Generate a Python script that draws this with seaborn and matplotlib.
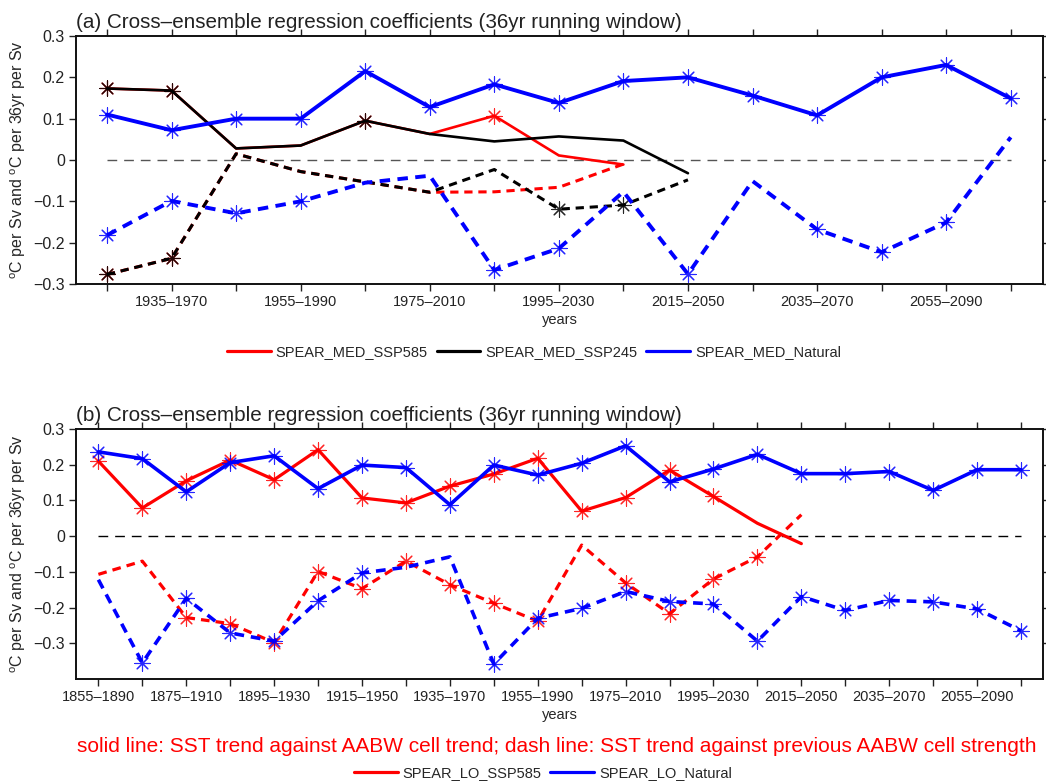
import numpy as np
import pandas as pd
import matplotlib
matplotlib.use("Agg")
import matplotlib.pyplot as plt
from matplotlib.lines import Line2D
import seaborn as sns

# ---------------- data ----------------
# Panel (a): SPEAR_MED, 36-yr windows starting 1925 ... 2065
med_start_years = [1925, 1935, 1945, 1955, 1965, 1975, 1985, 1995, 2005, 2015, 2025, 2035, 2045, 2055, 2065]

med_nat_trend = [0.110, 0.072, 0.100, 0.100, 0.215, 0.128, 0.183, 0.138, 0.191, 0.200, 0.156, 0.108, 0.200, 0.230, 0.149]
med_nat_trend_sig = [1, 1, 1, 1, 1, 1, 1, 1, 1, 1, 1, 1, 1, 1, 1]
med_nat_prev = [-0.182, -0.099, -0.129, -0.100, -0.055, -0.038, -0.266, -0.214, -0.077, -0.276, -0.051, -0.168, -0.223, -0.151, 0.055]
med_nat_prev_sig = [1, 1, 1, 1, 0, 0, 1, 1, 0, 1, 0, 1, 1, 1, 0]

med_245_trend = [0.173, 0.168, 0.028, 0.035, 0.095, 0.063, 0.045, 0.057, 0.047, -0.032]
med_245_trend_sig = [1, 1, 0, 0, 1, 0, 0, 0, 0, 0]
med_245_prev = [-0.277, -0.238, 0.015, -0.028, -0.053, -0.078, -0.023, -0.119, -0.109, -0.048]
med_245_prev_sig = [1, 1, 0, 0, 0, 0, 0, 1, 1, 0]

med_585_trend = [0.173, 0.168, 0.028, 0.035, 0.095, 0.063, 0.107, 0.011, -0.011]
med_585_trend_sig = [1, 1, 0, 0, 1, 0, 1, 0, 0]
med_585_prev = [-0.277, -0.238, 0.015, -0.028, -0.053, -0.078, -0.077, -0.066, -0.010]
med_585_prev_sig = [1, 1, 0, 0, 0, 0, 0, 0, 0]

# Panel (b): SPEAR_LO, 36-yr windows starting 1855 ... 2065
lo_start_years = [1855, 1865, 1875, 1885, 1895, 1905, 1915, 1925, 1935, 1945, 1955,
                  1965, 1975, 1985, 1995, 2005, 2015, 2025, 2035, 2045, 2055, 2065]

lo_nat_trend = [0.236, 0.217, 0.124, 0.206, 0.225, 0.133, 0.199, 0.192, 0.088, 0.199, 0.171,
                0.204, 0.253, 0.152, 0.188, 0.229, 0.175, 0.175, 0.181, 0.128, 0.186, 0.186]
lo_nat_trend_sig = [1] * 22
lo_nat_prev = [-0.122, -0.355, -0.174, -0.271, -0.294, -0.181, -0.103, -0.087, -0.058, -0.358, -0.230,
               -0.202, -0.155, -0.183, -0.190, -0.294, -0.169, -0.208, -0.180, -0.184, -0.204, -0.265]
lo_nat_prev_sig = [0, 1, 1, 1, 1, 1, 1, 0, 0, 1, 1, 1, 1, 1, 1, 1, 1, 1, 1, 1, 1, 1]

lo_585_trend = [0.210, 0.079, 0.155, 0.213, 0.158, 0.242, 0.107, 0.093, 0.140, 0.174, 0.218,
                0.070, 0.108, 0.185, 0.111, 0.036, -0.021]
lo_585_trend_sig = [1, 1, 1, 1, 1, 1, 1, 1, 1, 1, 1, 1, 1, 1, 1, 0, 0]
lo_585_prev = [-0.107, -0.070, -0.228, -0.245, -0.298, -0.099, -0.147, -0.070, -0.136, -0.188, -0.238,
               -0.025, -0.131, -0.217, -0.120, -0.058, 0.060]
lo_585_prev_sig = [0, 0, 1, 1, 1, 1, 1, 1, 1, 1, 1, 0, 1, 1, 1, 1, 0]

y_ticks = [-0.3, -0.2, -0.1, 0.0, 0.1, 0.2, 0.3]

# ---------------- style ----------------
sns.set_style("ticks")
plt.rcParams["font.family"] = ["Liberation Sans", "DejaVu Sans"]
plt.rcParams["mathtext.default"] = "regular"

RED, BLUE, BLACK = "#ff0000", "#0000ff", "#000000"
STAR = (8, 2, 0)

fig = plt.figure(figsize=(10.46, 7.82), dpi=100)
W, H = 1046, 782
axa = fig.add_axes([76 / W, 1 - 284 / H, (1043 - 76) / W, (284 - 36) / H])
axb = fig.add_axes([76 / W, 1 - 679 / H, (1043 - 76) / W, (679 - 429) / H])


def draw(ax, y, sig, color, lw, dashed, z):
    df = pd.DataFrame({"x": np.arange(len(y)), "y": y, "sig": np.array(sig, bool)})
    ls = (0, (2.7, 1.9)) if dashed else "-"
    sns.lineplot(data=df, x="x", y="y", ax=ax, color=color, linewidth=lw,
                 linestyle=ls, legend=False, zorder=z)
    sub = df[df["sig"]]
    if len(sub):
        sns.scatterplot(data=sub, x="x", y="y", ax=ax, marker=STAR, s=120,
                        color=color, linewidth=0.8, alpha=0.85, legend=False, zorder=z + 0.5)


def fmt(v):
    if abs(v) < 1e-9:
        return "0"
    s = f"{abs(v):.1f}"
    return ("\u2212" + s) if v < 0 else s


def style_axes(ax, starts, label_parity, ylim, zero_color, zero_dash):
    n = len(starts)
    ax.hlines(0, 0, n - 1, colors=zero_color, linestyles=[zero_dash], linewidth=1.0, zorder=1)
    ax.set_ylim(*ylim)
    ax.set_yticks(y_ticks)
    ax.set_yticklabels([fmt(v) for v in y_ticks], fontsize=11.5)
    ax.set_xticks(np.arange(n))
    ax.set_xticklabels([f"{s}\u2013{s + 35}" if i % 2 == label_parity else ""
                        for i, s in enumerate(starts)], fontsize=10.5)
    ax.tick_params(direction="out", length=5, width=1, top=True, right=True,
                   labeltop=False, labelright=False, pad=3, colors="#222222")
    for sp in ax.spines.values():
        sp.set_linewidth(1.4)
        sp.set_color("#111111")
    ax.set_xlabel("years", fontsize=10.5, labelpad=3)
    ax.set_ylabel("$^o$C per Sv and $^o$C per 36yr per Sv", fontsize=11.5, labelpad=4)


# Panel (a)
draw(axa, med_585_trend, med_585_trend_sig, RED, 1.9, False, 3)
draw(axa, med_585_prev, med_585_prev_sig, RED, 2.2, True, 3)
draw(axa, med_245_trend, med_245_trend_sig, BLACK, 1.9, False, 4)
draw(axa, med_245_prev, med_245_prev_sig, BLACK, 2.2, True, 4)
draw(axa, med_nat_trend, med_nat_trend_sig, BLUE, 2.8, False, 5)
draw(axa, med_nat_prev, med_nat_prev_sig, BLUE, 2.8, True, 5)
axa.set_xlim(-0.48, len(med_start_years) - 1 + 0.5)
style_axes(axa, med_start_years, 1, (-0.3, 0.3), "#555555", (0, (7, 5)))
axa.set_title("(a) Cross\u2013ensemble regression coefficients (36yr running window)",
              loc="left", fontsize=14.9, pad=6, color="#222222")

# Panel (b)
draw(axb, lo_585_trend, lo_585_trend_sig, RED, 2.3, False, 3)
draw(axb, lo_585_prev, lo_585_prev_sig, RED, 2.3, True, 3)
draw(axb, lo_nat_trend, lo_nat_trend_sig, BLUE, 2.6, False, 4)
draw(axb, lo_nat_prev, lo_nat_prev_sig, BLUE, 2.6, True, 4)
axb.set_xlim(-0.51, len(lo_start_years) - 1 + 0.5)
style_axes(axb, lo_start_years, 0, (-0.4, 0.3), "#000000", (0, (7, 5)))
axb.set_title("(b) Cross\u2013ensemble regression coefficients (36yr running window)",
              loc="left", fontsize=14.9, pad=6, color="#222222")

# Legends and note
leg_kw = dict(loc="center", frameon=False, handlelength=3.0, handletextpad=0.35,
              columnspacing=0.6, fontsize=10.5)
ha = [Line2D([], [], color=c, lw=2.3) for c in (RED, BLACK, BLUE)]
fig.legend(ha, ["SPEAR_MED_SSP585", "SPEAR_MED_SSP245", "SPEAR_MED_Natural"],
           ncol=3, bbox_to_anchor=(534 / W, 1 - 352 / H), **leg_kw)

fig.text(557 / W, 1 - 747 / H,
         "solid line: SST trend against AABW cell trend; dash line: SST trend against previous AABW cell strength",
         color=RED, fontsize=15, ha="center", va="center")

hb = [Line2D([], [], color=c, lw=2.3) for c in (RED, BLUE)]
fig.legend(hb, ["SPEAR_LO_SSP585", "SPEAR_LO_Natural"],
           ncol=2, bbox_to_anchor=(543 / W, 1 - 773 / H), **leg_kw)

fig.savefig("out.png", dpi=100)
